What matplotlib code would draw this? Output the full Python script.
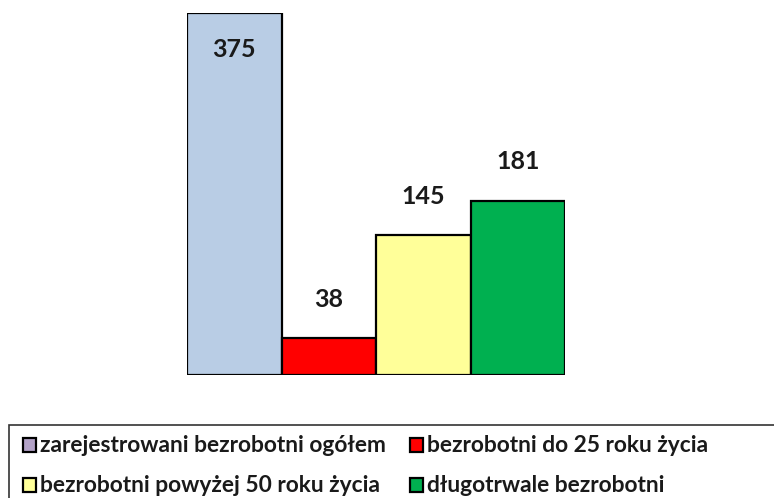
import matplotlib
matplotlib.use("Agg")
import matplotlib.pyplot as plt
from matplotlib.patches import Rectangle

categories = ["zarejestrowani bezrobotni ogółem", "bezrobotni do 25 roku życia",
              "bezrobotni powyżej 50 roku życia", "długotrwale bezrobotni"]
values = [375, 38, 145, 181]
bar_colors = ["#B9CDE5", "#FF0000", "#FFFF99", "#00B050"]
legend_colors = ["#B3A2C7", "#FF0000", "#FFFF99", "#00B050"]

W, H = 774, 498
fig = plt.figure(figsize=(W / 100, H / 100), dpi=100)
ax = fig.add_axes([187 / W, 123 / H, 378 / W, 361.5 / H])
x = list(range(len(values)))
ax.bar(x, values, width=1.0, color=bar_colors, edgecolor="black", linewidth=1.6, zorder=2)
ax.set_xlim(-0.5, 3.5)
ax.set_ylim(0, 375)
ax.axis("off")

font = "Lato"
for i, v in enumerate(values):
    y = v - 37 if i == 0 else v + 40
    ax.text(i, y, str(v), ha="center", va="center", fontsize=18,
            fontweight="bold", family=font, color="#1a1a1a")

# legend box (extends past figure edges, as in reference)
fig.patches.append(Rectangle((9 / W, -0.1), 1.0, (498 - 425) / H + 0.1,
                             transform=fig.transFigure, facecolor="white",
                             edgecolor="#333333", linewidth=1.2))
pos = [(23, 445), (410, 445), (23, 485), (410, 485)]
texts = []
for (px, py), lab, c in zip(pos, categories, legend_colors):
    fig.patches.append(Rectangle((px / W, (H - py - 7) / H), 13 / W, 14 / H,
                                 transform=fig.transFigure, facecolor=c,
                                 edgecolor="black", linewidth=1.6))
    t = fig.text((px + 17) / W, (H - py) / H, lab, ha="left", va="center",
                 fontsize=16, family=font, fontweight="bold", color="#1a1a1a")
    texts.append(t)

# scale legend font so the first label spans its width in the reference
fig.canvas.draw()
r = fig.canvas.get_renderer()
w0 = texts[0].get_window_extent(r).width
fs = 16 * 349 / w0
for t in texts:
    t.set_fontsize(fs)

fig.savefig("out.png", dpi=100)
